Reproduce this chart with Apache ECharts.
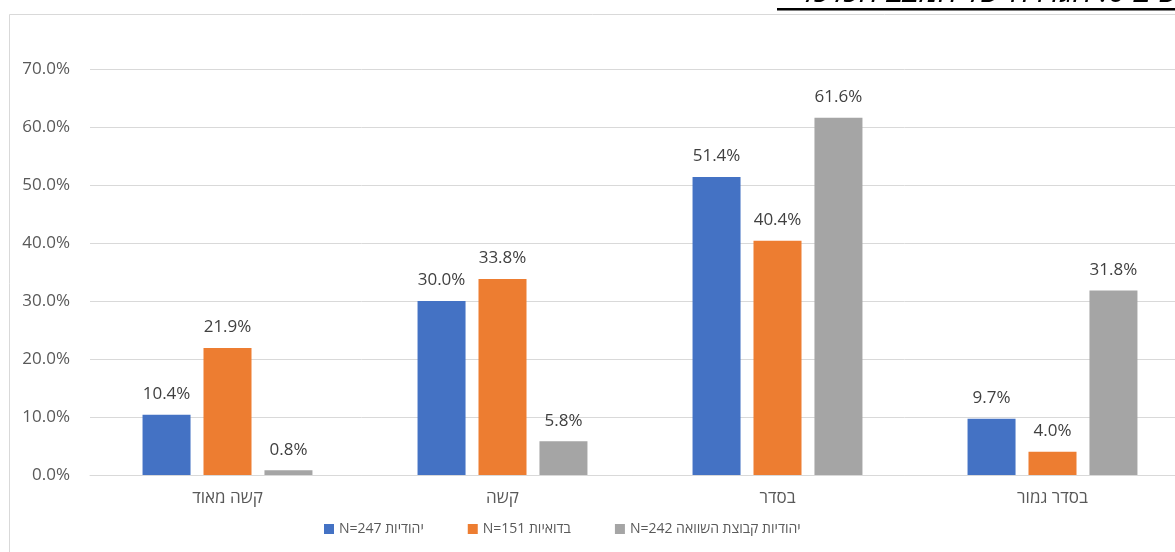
<!DOCTYPE html>
<html>
<head>
<meta charset="utf-8">
<script src="https://cdn.jsdelivr.net/npm/echarts@6/dist/echarts.min.js"></script>
<style>
  html, body { margin: 0; padding: 0; background: #fff; }
  #chart { width: 1175px; height: 552px; }
</style>
</head>
<body>
<div id="chart"></div>
<script>
// Response categories (left to right as drawn)
const categories = ['קשה מאוד', 'קשה', 'בסדר', 'בסדר גמור'];

// Series names (shown in the legend)
const seriesNames = [
  'N=247 יהודיות',
  'N=151 בדואיות',
  'N=242 יהודיות קבוצת השוואה'
];

// Percentages per series
const jewishValues = [10.4, 30.0, 51.4, 9.7];
const bedouinValues = [21.9, 33.8, 40.4, 4.0];
const comparisonValues = [0.8, 5.8, 61.6, 31.8];

// Y axis ticks
const yMin = 0;
const yMax = 70;
const yStep = 10;

const titleText = '\u202Bתרשים 6: הגדרה של המצב הכלכלי\u202C';

const colors = ['#4472C4', '#ED7D31', '#A5A5A5'];
const font = "'Open Sans', 'Noto Sans', 'DejaVu Sans', sans-serif";

const chart = echarts.init(document.getElementById('chart'), null, { renderer: 'canvas' });

function makeSeries(name, data, color) {
  return {
    name: name,
    type: 'bar',
    data: data,
    barWidth: 48,
    barGap: '27%',
    itemStyle: { color: color },
    label: {
      show: true,
      position: 'top',
      distance: 12,
      color: '#404040',
      fontSize: 17,
      fontFamily: font,
      formatter: p => p.value.toFixed(1) + '%'
    },
    emphasis: { disabled: true }
  };
}

chart.setOption({
  animation: false,
  backgroundColor: '#ffffff',
  textStyle: { fontFamily: font },
  graphic: [
    {
      type: 'rect',
      silent: true,
      shape: { x: 9.5, y: 14.5, width: 1200, height: 600 },
      style: { fill: 'none', stroke: '#d9d9d9', lineWidth: 1 }
    },
    {
      type: 'text',
      silent: true,
      x: 1216,
      y: -7,
      style: {
        text: titleText,
        fill: '#000',
        fontSize: 31,
        fontStyle: 'italic',
        fontFamily: font,
        align: 'right',
        verticalAlign: 'middle'
      }
    },
    {
      type: 'rect',
      silent: true,
      shape: { x: 777, y: 8, width: 420, height: 2.5 },
      style: { fill: '#000' }
    }
  ],
  legend: {
    bottom: 11,
    left: 319,
    itemWidth: 10,
    itemHeight: 10,
    itemGap: 44,
    icon: 'rect',
    textStyle: { color: '#595959', fontSize: 14, fontFamily: font },
    data: seriesNames
  },
  grid: {
    left: 90,
    top: 69,
    width: 1100,
    height: 406,
    outerBoundsMode: 'none',
    containLabel: false
  },
  xAxis: {
    type: 'category',
    data: categories,
    axisLine: { show: true, lineStyle: { color: '#d9d9d9' } },
    axisTick: { show: false },
    axisLabel: { color: '#595959', fontSize: 17, margin: 15, fontFamily: font }
  },
  yAxis: {
    type: 'value',
    min: yMin,
    max: yMax,
    interval: yStep,
    axisLine: { show: false },
    axisTick: { show: false },
    splitLine: { lineStyle: { color: '#d9d9d9', width: 1 } },
    axisLabel: {
      color: '#595959',
      fontSize: 17,
      margin: 20,
      fontFamily: font,
      formatter: v => v.toFixed(1) + '%'
    }
  },
  series: [
    makeSeries(seriesNames[0], jewishValues, colors[0]),
    makeSeries(seriesNames[1], bedouinValues, colors[1]),
    makeSeries(seriesNames[2], comparisonValues, colors[2])
  ]
});
</script>
</body>
</html>
